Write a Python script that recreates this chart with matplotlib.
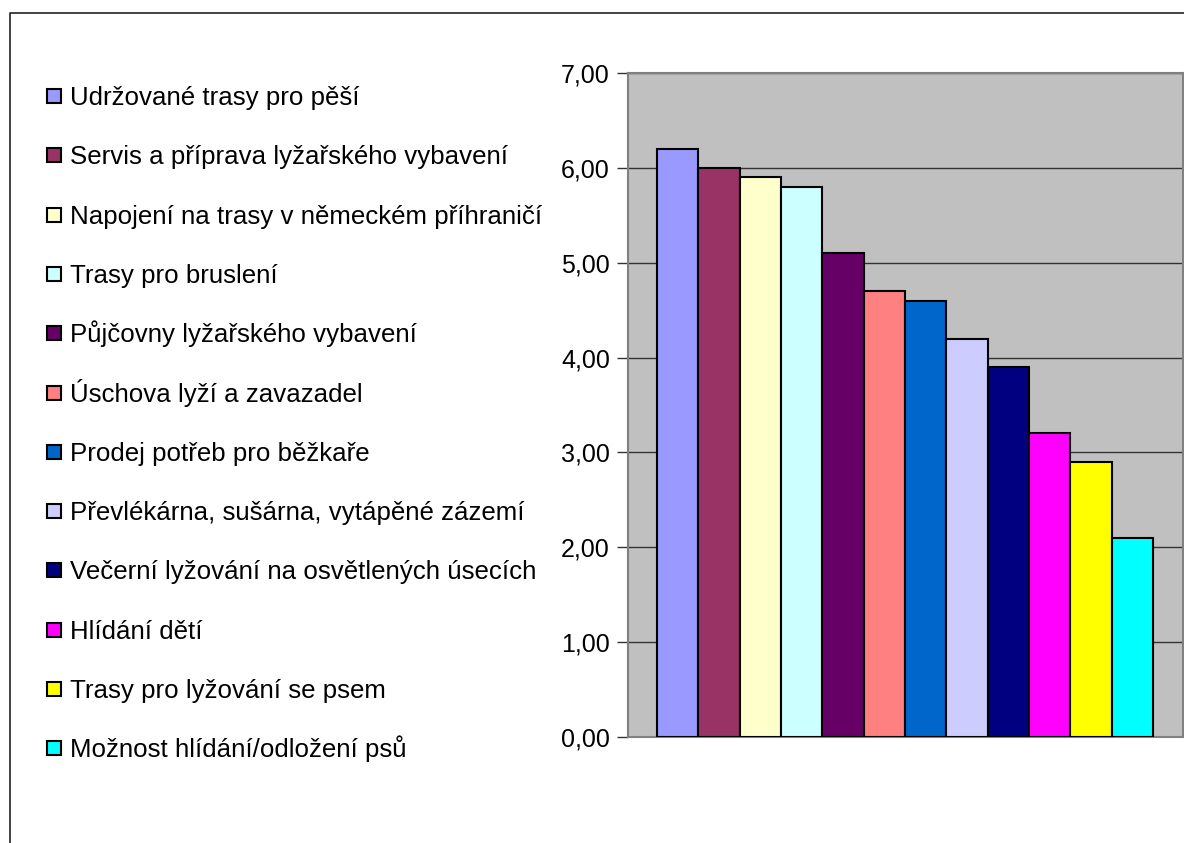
import matplotlib.pyplot as plt
from matplotlib.lines import Line2D
from matplotlib.patches import Rectangle

plt.rcParams["font.family"] = ["Liberation Sans", "DejaVu Sans"]

labels = [
    "Udržované trasy pro pěší",
    "Servis a příprava lyžařského vybavení",
    "Napojení na trasy v německém příhraničí",
    "Trasy pro bruslení",
    "Půjčovny lyžařského vybavení",
    "Úschova lyží a zavazadel",
    "Prodej potřeb pro běžkaře",
    "Převlékárna, sušárna, vytápěné zázemí",
    "Večerní lyžování na osvětlených úsecích",
    "Hlídání dětí",
    "Trasy pro lyžování se psem",
    "Možnost hlídání/odložení psů",
]
values = [6.2, 6.0, 5.9, 5.8, 5.1, 4.7, 4.6, 4.2, 3.9, 3.2, 2.9, 2.1]
colors = ["#9999FF", "#993366", "#FFFFCC", "#CCFFFF", "#660066", "#FF8080",
          "#0066CC", "#CCCCFF", "#000080", "#FF00FF", "#FFFF00", "#00FFFF"]
yticks = [0, 1, 2, 3, 4, 5, 6, 7]

W, H = 1184, 843
fig = plt.figure(figsize=(W / 100, H / 100), dpi=100)
ax = fig.add_axes([628 / W, 1 - 737 / H, 555 / W, 664 / H])
ax.set_facecolor("#C0C0C0")

bars = ax.bar(range(len(values)), values, width=1.0, color=colors,
              edgecolor="black", linewidth=1.5, zorder=3)

ax.set_ylim(0, 7)
ax.set_xlim(-1.2, 12.23)
ax.set_yticks(yticks)
ax.set_yticklabels([f"{t:.2f}".replace(".", ",") for t in yticks], fontsize=18)
ax.set_xticks([])
ax.yaxis.grid(True, color="#333333", linewidth=1.0, zorder=1)
ax.tick_params(axis="y", length=8, width=1, color="#333333", pad=5)
for side in ["top", "right", "left", "bottom"]:
    ax.spines[side].set_color("#808080")
    ax.spines[side].set_linewidth(1.5)

# legend drawn as fixed rows, like the original
row0, step = 96, 59.3
for i, (lab, col) in enumerate(zip(labels, colors)):
    yc = row0 + i * step
    fig.add_artist(Rectangle((47 / W, 1 - (yc + 7) / H), 14 / W, 14 / H,
                             transform=fig.transFigure, facecolor=col,
                             edgecolor="black", linewidth=1.5))
    fig.text(70 / W, 1 - (yc + 9) / H, lab, fontsize=18.6, va="baseline", ha="left")

# outer chart border (top and left)
fig.add_artist(Line2D([9.5 / W, 9.5 / W, 1.0], [0.0, 1 - 13 / H, 1 - 13 / H],
                      transform=fig.transFigure, color="#222222", linewidth=1.2))

fig.savefig("out.png", dpi=100)
